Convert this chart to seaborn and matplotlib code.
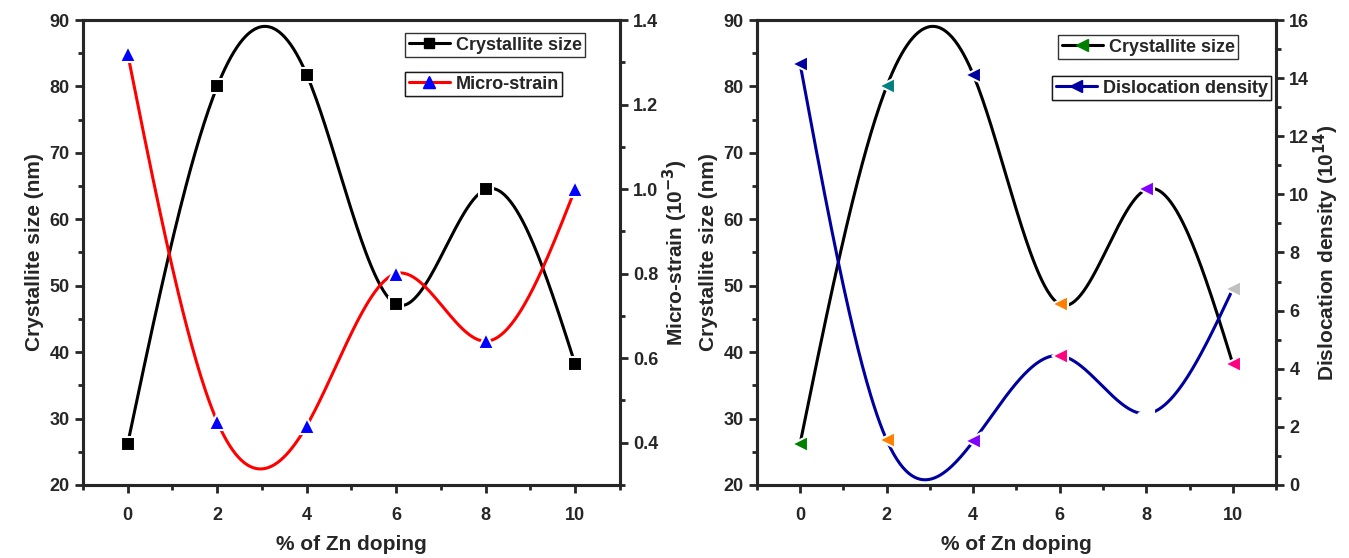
import numpy as np
import pandas as pd
import seaborn as sns
import matplotlib.pyplot as plt
from matplotlib.lines import Line2D
from matplotlib.ticker import MultipleLocator

# data
zn_doping = [0, 2, 4, 6, 8, 10]
crystallite_size = [26.2, 80.0, 81.8, 47.2, 64.5, 38.2]
micro_strain = [1.32, 0.45, 0.44, 0.80, 0.64, 1.00]
dislocation_density = [14.5, 1.55, 1.5, 4.45, 2.45, 6.75]
# the right panel colours every marker on its own
cs_marker_colors = ["#008000", "#008080", "#0000A0", "#FF8000", "#8000FF", "#FF0080"]
dd_marker_colors = ["#0000A0", "#FF8000", "#8000FF", "#FF0080", "white", "#C0C0C0"]


def natural_spline(x, y, n=300):
    # smooth curve through the points (Origin style spline line)
    x = np.asarray(x, float)
    y = np.asarray(y, float)
    h = np.diff(x)
    k = len(x)
    A = np.zeros((k, k))
    b = np.zeros(k)
    A[0, 0] = A[-1, -1] = 1
    for i in range(1, k - 1):
        A[i, i - 1] = h[i - 1]
        A[i, i] = 2 * (h[i - 1] + h[i])
        A[i, i + 1] = h[i]
        b[i] = 6 * ((y[i + 1] - y[i]) / h[i] - (y[i] - y[i - 1]) / h[i - 1])
    M = np.linalg.solve(A, b)
    xs = np.linspace(x[0], x[-1], n)
    idx = np.clip(np.searchsorted(x, xs) - 1, 0, k - 2)
    x0, x1 = x[idx], x[idx + 1]
    hh = x1 - x0
    ys = (M[idx] * (x1 - xs) ** 3 / (6 * hh) + M[idx + 1] * (xs - x0) ** 3 / (6 * hh)
          + (y[idx] / hh - M[idx] * hh / 6) * (x1 - xs)
          + (y[idx + 1] / hh - M[idx + 1] * hh / 6) * (xs - x0))
    return pd.DataFrame({"x": xs, "y": ys})


sns.set_style("ticks")
plt.rcParams["font.family"] = ["Liberation Sans Narrow", "Liberation Sans", "DejaVu Sans"]
plt.rcParams["font.weight"] = "bold"
plt.rcParams["axes.labelweight"] = "bold"

fig = plt.figure(figsize=(13.49, 5.58), dpi=100)
ax1 = fig.add_axes([0.0615, 0.131, 0.398, 0.833])
ax3 = fig.add_axes([0.561, 0.131, 0.385, 0.833])
ax2 = ax1.twinx()
ax4 = ax3.twinx()

lw = 2.2
edge = dict(markeredgecolor="white", markeredgewidth=1.5)


def style_axes(ax, ylim, major, minor):
    ax.set_ylim(*ylim)
    ax.yaxis.set_major_locator(MultipleLocator(major))
    ax.yaxis.set_minor_locator(MultipleLocator(minor))
    ax.set_xlim(-1, 11)
    ax.xaxis.set_major_locator(MultipleLocator(2))
    ax.xaxis.set_minor_locator(MultipleLocator(1))
    for s in ax.spines.values():
        s.set_visible(True)
        s.set_linewidth(2.2)
    ax.tick_params(which="major", direction="out", length=6, width=2, labelsize=13)
    ax.tick_params(which="minor", direction="out", length=3.5, width=2)
    ax.tick_params(axis="x", pad=10)
    for t in ax.get_xticklabels() + ax.get_yticklabels():
        t.set_fontweight("bold")


# ---- left panel: crystallite size + micro-strain
cs = natural_spline(zn_doping, crystallite_size)
ms = natural_spline(zn_doping, micro_strain)
sns.lineplot(data=cs, x="x", y="y", ax=ax1, color="black", lw=lw)
ax1.plot(zn_doping, crystallite_size, "s", color="black", ms=9.5, **edge, zorder=5)
sns.lineplot(data=ms, x="x", y="y", ax=ax2, color="#FF0000", lw=lw)
ax2.plot(zn_doping, micro_strain, "^", color="#0000FF", ms=11, **edge, zorder=5)

style_axes(ax1, (20, 90), 10, 5)
style_axes(ax2, (0.3, 1.4), 0.2, 0.1)
ax2.set_yticks([0.4, 0.6, 0.8, 1.0, 1.2, 1.4])
ax1.set_xlabel("% of Zn doping", fontsize=15, labelpad=8)
ax1.set_ylabel("Crystallite size (nm)", fontsize=15)
ax2.set_ylabel("Micro-strain (10$^{-3}$)", fontsize=15, labelpad=2)

# ---- right panel: crystallite size + dislocation density
dd = natural_spline(zn_doping, dislocation_density)
sns.lineplot(data=cs, x="x", y="y", ax=ax3, color="black", lw=lw)
for xv, yv, c in zip(zn_doping, crystallite_size, cs_marker_colors):
    ax3.plot(xv, yv, "<", color=c, ms=12, **edge, zorder=5)
sns.lineplot(data=dd, x="x", y="y", ax=ax4, color="#0000A0", lw=lw)
for xv, yv, c in zip(zn_doping, dislocation_density, dd_marker_colors):
    ax4.plot(xv, yv, "<", color=c, ms=12, **edge, zorder=5)

style_axes(ax3, (20, 90), 10, 5)
style_axes(ax4, (0, 16), 2, 1)
ax3.set_xlabel("% of Zn doping", fontsize=15, labelpad=8)
ax3.set_ylabel("Crystallite size (nm)", fontsize=15)
ax4.set_ylabel("Dislocation density (10$^{14}$)", fontsize=15, labelpad=2)

# ---- separate boxed legends
leg_kw = dict(frameon=True, fancybox=False, edgecolor="black", fontsize=13,
              handlelength=2.3, borderpad=0.2, handletextpad=0.3, borderaxespad=0)


def box_legend(ax, handle, label, xy):
    leg = ax.legend([handle], [label], loc="upper left", bbox_to_anchor=xy,
                    bbox_transform=fig.transFigure, **leg_kw)
    leg.get_frame().set_linewidth(1.0)
    for t in leg.get_texts():
        t.set_fontweight("bold")
    ax.add_artist(leg)


box_legend(ax2, Line2D([], [], color="black", lw=lw, marker="s", ms=7, mfc="black", mec="black"),
           "Crystallite size", (405 / 1349, 1 - 33 / 558))
box_legend(ax2, Line2D([], [], color="#FF0000", lw=lw, marker="^", ms=9, mfc="#0000FF", mec="#0000FF"),
           "Micro-strain", (405 / 1349, 1 - 72 / 558))
box_legend(ax4, Line2D([], [], color="black", lw=lw, marker="<", ms=8, mfc="#008000", mec="#008000"),
           "Crystallite size", (1058 / 1349, 1 - 35 / 558))
box_legend(ax4, Line2D([], [], color="#0000A0", lw=lw, marker="<", ms=8, mfc="#0000A0", mec="#0000A0"),
           "Dislocation density", (1052 / 1349, 1 - 76 / 558))

fig.savefig("out.png", dpi=100)
